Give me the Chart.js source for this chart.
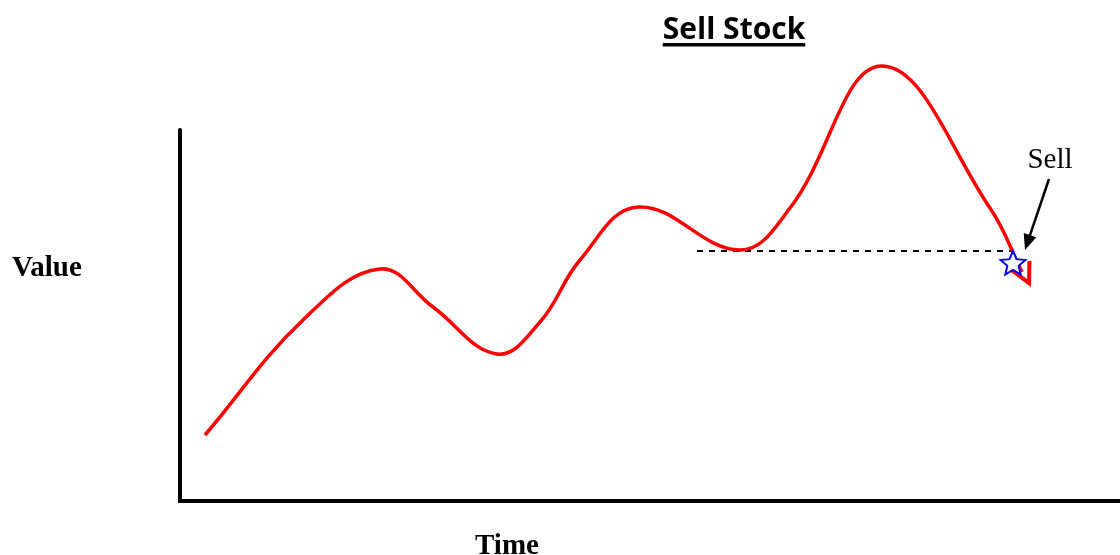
<!DOCTYPE html>
<html>
<head>
<meta charset="utf-8">
<script src="https://cdn.jsdelivr.net/npm/chart.js@4"></script>
<style>
  body { margin: 0; background: #fff; }
  #wrap { width: 1120px; height: 555px; position: relative; }
</style>
</head>
<body>
<div id="wrap"><canvas id="stockChart"></canvas></div>
<script>
// price path (time, value)
const times  = [2.5, 12.3, 20, 25.3, 31.7, 36, 40, 45.8, 56, 61, 70.2, 81, 84.2];
const values = [6.6, 18.1, 23.2, 19.4, 14.7, 17.9, 24.1, 29.4, 25.1, 29.3, 43.5, 29.3, 22.9];

// reference level (dashed) and the sell point
const refLevel = 25.0;
const refStart = 51.7;
const refEnd = 83.2;
const sellPoint = { x: 83.3, y: 23.7 };
const arrowTip = { x: 84.9, y: 21.8 };

// axis extents
const xMax = 94;
const yMax = 47;
const yAxisTop = 37.1;

const titleText = 'Sell Stock';
const yLabel = 'Value';
const xLabel = 'Time';
const sellLabel = 'Sell';

const pricePoints = times.map((t, i) => ({ x: t, y: values[i] }));

function drawStar(ctx, cx, cy, rOut, rIn) {
    ctx.beginPath();
    for (let i = 0; i < 10; i++) {
        const r = i % 2 === 0 ? rOut : rIn;
        const a = -Math.PI / 2 + i * Math.PI / 5;
        const px = cx + r * Math.cos(a);
        const py = cy + r * Math.sin(a);
        if (i === 0) ctx.moveTo(px, py); else ctx.lineTo(px, py);
    }
    ctx.closePath();
}

const decorPlugin = {
    id: 'decor',
    beforeDatasetsDraw(chart) {
        const { ctx, scales } = chart;
        const x = scales.x, y = scales.y;
        ctx.save();
        // axes
        ctx.strokeStyle = '#000';
        ctx.lineWidth = 4;
        ctx.lineCap = 'round';
        ctx.beginPath();
        ctx.moveTo(x.getPixelForValue(0), y.getPixelForValue(yAxisTop));
        ctx.lineTo(x.getPixelForValue(0), y.getPixelForValue(0));
        ctx.lineTo(x.getPixelForValue(xMax) + 5, y.getPixelForValue(0));
        ctx.stroke();
        ctx.restore();
    },
    afterDatasetsDraw(chart) {
        const { ctx, scales } = chart;
        const x = scales.x, y = scales.y;
        ctx.save();

        // red arrow head at end of the price line
        const n = pricePoints.length;
        const ex = x.getPixelForValue(arrowTip.x), ey = y.getPixelForValue(arrowTip.y);
        const lx = x.getPixelForValue(pricePoints[n - 2].x), ly = y.getPixelForValue(pricePoints[n - 2].y);
        const ang = Math.atan2(ey - ly, ex - lx);
        ctx.strokeStyle = '#ff0000';
        ctx.lineWidth = 4;
        ctx.lineCap = 'butt';
        ctx.beginPath();
        ctx.moveTo(ex - 22 * Math.cos(ang - 0.45), ey - 22 * Math.sin(ang - 0.45));
        ctx.lineTo(ex, ey);
        ctx.lineTo(ex - 22 * Math.cos(ang + 0.5), ey - 22 * Math.sin(ang + 0.5));
        ctx.stroke();

        // blue star at the sell point
        const sx = x.getPixelForValue(sellPoint.x), sy = y.getPixelForValue(sellPoint.y);
        drawStar(ctx, sx, sy, 13, 6);
        ctx.fillStyle = '#fff';
        ctx.fill();
        ctx.strokeStyle = '#0000ff';
        ctx.lineWidth = 2;
        ctx.lineJoin = 'miter';
        ctx.stroke();

        // "Sell" callout arrow
        const ax0 = x.getPixelForValue(86.9), ay0 = y.getPixelForValue(32.2);
        const ax1 = x.getPixelForValue(84.5), ay1 = y.getPixelForValue(25.1);
        const a2 = Math.atan2(ay1 - ay0, ax1 - ax0);
        ctx.strokeStyle = '#000';
        ctx.fillStyle = '#000';
        ctx.lineWidth = 2.5;
        ctx.beginPath();
        ctx.moveTo(ax0, ay0);
        ctx.lineTo(ax1 - 12 * Math.cos(a2), ay1 - 12 * Math.sin(a2));
        ctx.stroke();
        ctx.beginPath();
        ctx.moveTo(ax1, ay1);
        ctx.lineTo(ax1 - 17 * Math.cos(a2 - 0.4), ay1 - 17 * Math.sin(a2 - 0.4));
        ctx.lineTo(ax1 - 17 * Math.cos(a2 + 0.4), ay1 - 17 * Math.sin(a2 + 0.4));
        ctx.closePath();
        ctx.fill();

        // texts
        ctx.fillStyle = '#000';
        ctx.textAlign = 'center';
        ctx.textBaseline = 'alphabetic';
        ctx.font = '29px "Liberation Serif"';
        ctx.fillText(sellLabel, x.getPixelForValue(87), 168);

        ctx.font = 'bold 29px "Liberation Serif"';
        ctx.textAlign = 'left';
        ctx.fillText(yLabel, 12, 276);
        ctx.textAlign = 'center';
        ctx.fillText(xLabel, 507, 554);

        ctx.font = 'bold 30px "Open Sans"';
        ctx.fillText(titleText, 734, 39);
        const tw = ctx.measureText(titleText).width;
        ctx.fillRect(734 - tw / 2, 43, tw, 3.5);

        ctx.restore();
    }
};

new Chart(document.getElementById('stockChart'), {
    type: 'line',
    data: {
        datasets: [
            {
                data: pricePoints,
                borderColor: '#ff0000',
                borderWidth: 3.5,
                pointRadius: 0,
                tension: 0.4,
                fill: false,
                clip: false
            },
            {
                data: [{ x: refStart, y: refLevel }, { x: refEnd, y: refLevel }],
                borderColor: '#000',
                borderWidth: 2,
                borderDash: [6, 6],
                pointRadius: 0,
                fill: false
            }
        ]
    },
    options: {
        responsive: true,
        maintainAspectRatio: false,
        animation: false,
        layout: { padding: { left: 180, right: 0, top: 31, bottom: 54 } },
        plugins: {
            legend: { display: false },
            tooltip: { enabled: false },
            title: { display: false }
        },
        scales: {
            x: { type: 'linear', min: 0, max: xMax, display: false },
            y: { type: 'linear', min: 0, max: yMax, display: false }
        }
    },
    plugins: [decorPlugin]
});
</script>
</body>
</html>
